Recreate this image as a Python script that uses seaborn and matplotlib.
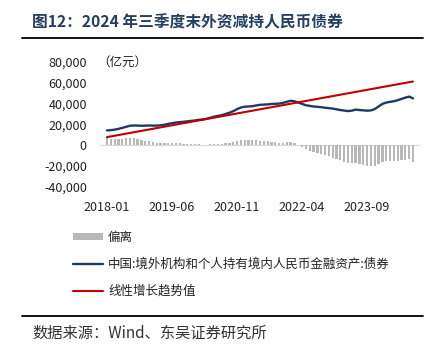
import matplotlib
matplotlib.use("Agg")
import matplotlib.pyplot as plt
from matplotlib.lines import Line2D
from matplotlib.patches import Patch
from matplotlib.ticker import FuncFormatter
import numpy as np
import pandas as pd
import seaborn as sns

# monthly, 2018-01 .. 2024-09 (亿元)
months = pd.period_range("2018-01", "2024-09", freq="M").strftime("%Y-%m").tolist()

bond_holdings = [
    14000, 14300, 14800, 15500, 16500, 17500, 18500, 18800, 18700, 18500,
    18600, 18800, 18600, 18700, 18900, 19500, 20300, 21000, 21600, 22000,
    22300, 22800, 23200, 23600, 24200, 24600, 25200, 26200, 27200, 28000,
    28700, 29800, 31000, 32500, 34500, 36000, 36800, 37000, 37300, 38000,
    38600, 38800, 39000, 39400, 39600, 39800, 40500, 41500, 42500, 42000,
    40800, 39500, 38200, 37600, 37000, 36700, 36300, 35800, 35400, 35000,
    34300, 33600, 33100, 32600, 33000, 34000, 33600, 33300, 33000, 33200,
    34500, 37000, 39500, 40800, 41500, 42000, 43000, 44300, 45500, 46500,
    44800,
]

deviation = [
    6400, 6000, 5900, 5900, 6200, 6600, 6900, 6500, 5800, 4900,
    4300, 3900, 3000, 2400, 2000, 1900, 2000, 2100, 2000, 1700,
    1400, 1200, 900, 700, 600, 300, 300, 600, 900, 1100,
    1100, 1500, 2100, 2900, 4200, 5100, 5200, 4700, 4400, 4400,
    4300, 3900, 3400, 3100, 2700, 2200, 2200, 2600, 2900, 1700,
    -200, -2100, -4100, -5400, -6600, -7600, -8700, -9800, -10900, -12000,
    -13300, -14700, -15900, -17000, -17300, -17000, -18000, -19000, -20000, -20400,
    -19800, -18000, -16100, -15500, -15500, -15600, -15300, -14700, -14100, -13800,
    -16200,
]

# linear trend: start and end points
trend_months = ["2018-01", "2024-09"]
trend_values = [7600, 61000]

tick_labels = ["2018-01", "2019-06", "2020-11", "2022-04", "2023-09"]

lbl_dev = "偏离"
lbl_bond = "中国:境外机构和个人持有境内人民币金融资产:债券"
lbl_trend = "线性增长趋势值"

sns.set_theme(style="white")
plt.rcParams["font.family"] = ["Noto Sans CJK SC", "DejaVu Sans"]
plt.rcParams["axes.unicode_minus"] = False

pos = {m: i for i, m in enumerate(months)}
df = pd.DataFrame({"m": np.arange(len(months)), "bond": bond_holdings, "dev": deviation})
df_trend = pd.DataFrame({"m": [pos[t] for t in trend_months], "v": trend_values})

W, H = 444, 354
fig = plt.figure(figsize=(W / 100, H / 100), dpi=100)
ax = fig.add_axes([100 / W, 1 - 186.7 / H, 320 / W, 125 / H])

sns.barplot(data=df, x="m", y="dev", native_scale=True, color="#b8b8b8",
            saturation=1, width=0.6, linewidth=0, ax=ax, zorder=1)
sns.lineplot(data=df, x="m", y="bond", color="#1f3864", lw=1.7, ax=ax, zorder=3)
sns.lineplot(data=df_trend, x="m", y="v", color="#c00000", lw=1.5, ax=ax, zorder=4)
ax.axhline(0, color="#d9d9d9", lw=0.8, zorder=0)

ax.set_xlim(-1.83, 81.83)
ax.set_ylim(-40000, 80000)
ax.set_yticks(range(-40000, 80001, 20000))
ax.yaxis.set_major_formatter(FuncFormatter(lambda v, p: f"{int(v):,}"))
ax.set_xticks([pos[t] for t in tick_labels])
ax.set_xticklabels(tick_labels)
ax.tick_params(axis="both", length=0, labelsize=9, colors="#222222")
ax.tick_params(axis="y", pad=9.5)
ax.tick_params(axis="x", pad=10)
ax.set_xlabel("")
ax.set_ylabel("")
sns.despine(ax=ax, left=True, bottom=True)

fig.text(97 / W, 1 - 62 / H, "（亿元）", fontsize=9, color="#222222", va="center", ha="left")

handles = [
    Patch(facecolor="#b8b8b8", edgecolor="none"),
    Line2D([], [], color="#1f3864", lw=1.7),
    Line2D([], [], color="#c00000", lw=1.5),
]
fig.legend(handles, [lbl_dev, lbl_bond, lbl_trend], loc="upper left",
           bbox_to_anchor=(68 / W, 1 - 226 / H), frameon=False, fontsize=9,
           handlelength=2.4, handleheight=0.5, handletextpad=0.4,
           labelspacing=1.1, borderaxespad=0, labelcolor="#222222")

fig.text(32 / W, 1 - 22 / H, "图12：2024 年三季度末外资减持人民币债券", fontsize=11.3,
         fontweight="bold", color="#243f60", va="center", ha="left")
fig.add_artist(Line2D([22 / W, 423 / W], [1 - 38 / H] * 2, color="black", lw=1.3))
fig.add_artist(Line2D([22 / W, 423 / W], [1 - 316 / H] * 2, color="black", lw=1.3))
fig.text(32 / W, 1 - 333 / H, "数据来源：Wind、东吴证券研究所", fontsize=11,
         color="#333333", va="center", ha="left")

fig.savefig("out.png", dpi=100)
